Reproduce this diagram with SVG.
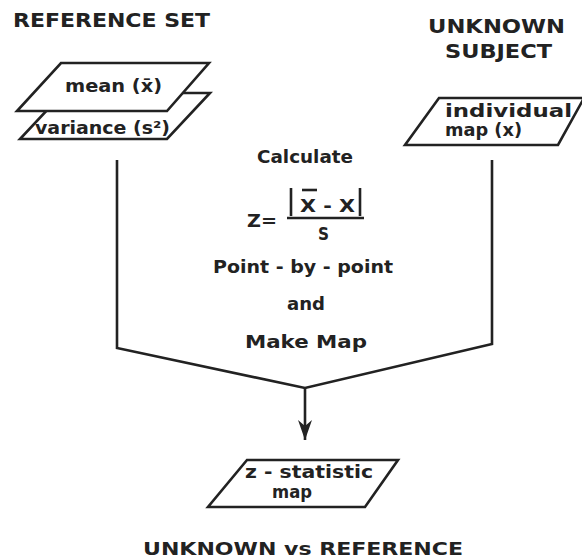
<svg xmlns="http://www.w3.org/2000/svg" width="582" height="560" viewBox="0 0 582 560">
<defs>
<style>
.t{font-family:"DejaVu Sans","Liberation Sans",sans-serif;font-weight:bold;fill:#222;}
.shape{fill:#fff;stroke:#222;stroke-width:2.6;stroke-linejoin:miter;}
.line{fill:none;stroke:#222;stroke-width:2.6;}
</style>
<marker id="arr" viewBox="0 0 20 14" refX="20" refY="7" markerWidth="20" markerHeight="14" markerUnits="userSpaceOnUse" orient="auto">
<path d="M0,0 L20,7 L0,14 L6,7 Z" fill="#222"/>
</marker>
</defs>
<rect width="582" height="560" fill="#fff"/>
<g id="title-reference"><text class="t" x="13" y="27" font-size="20" textLength="197" lengthAdjust="spacingAndGlyphs">REFERENCE SET</text></g>
<g id="title-unknown">
<text class="t" x="428" y="33" font-size="20" textLength="137" lengthAdjust="spacingAndGlyphs">UNKNOWN</text>
<text class="t" x="445" y="58" font-size="20" textLength="107" lengthAdjust="spacingAndGlyphs">SUBJECT</text>
</g>
<g id="variance">
<polygon class="shape" points="63,93 210,93 167,139 20,139"/>
<text class="t" x="35" y="134" font-size="17" textLength="135" lengthAdjust="spacingAndGlyphs">variance (s²)</text>
</g>
<g id="mean">
<polygon class="shape" points="61,63 209,63 167,111 17,111"/>
<text class="t" x="65" y="92" font-size="18" textLength="97" lengthAdjust="spacingAndGlyphs">mean (x̄)</text>
</g>
<g id="individual">
<polygon class="shape" points="439,98 584,98 558,145 405,145"/>
<text class="t" x="445" y="117" font-size="18" textLength="127" lengthAdjust="spacingAndGlyphs">individual</text>
<text class="t" x="445" y="136" font-size="18" textLength="77" lengthAdjust="spacingAndGlyphs">map (x)</text>
</g>
<g id="calculate">
<text class="t" x="257" y="163" font-size="18" textLength="96" lengthAdjust="spacingAndGlyphs">Calculate</text>
<text class="t" x="247" y="227" font-size="17" textLength="30" lengthAdjust="spacingAndGlyphs">Z=</text>
<line class="line" x1="291" y1="188" x2="291" y2="216"/>
<line class="line" x1="360" y1="188" x2="360" y2="216"/>
<line class="line" x1="302" y1="190" x2="317" y2="190" stroke-width="2"/>
<text class="t" x="300" y="212" font-size="18" textLength="55" lengthAdjust="spacingAndGlyphs">X - X</text>
<line class="line" x1="287" y1="218" x2="364" y2="218"/>
<text class="t" x="318" y="240" font-size="18" textLength="11" lengthAdjust="spacingAndGlyphs">S</text>
<text class="t" x="213" y="273" font-size="18" textLength="180" lengthAdjust="spacingAndGlyphs">Point - by - point</text>
<text class="t" x="287" y="310" font-size="18" textLength="38" lengthAdjust="spacingAndGlyphs">and</text>
<text class="t" x="245" y="348" font-size="18" textLength="122" lengthAdjust="spacingAndGlyphs">Make Map</text>
</g>
<g id="connectors">
<polyline class="line" points="117,160 117,348 305,388 492,344 492,160"/>
<line class="line" x1="305" y1="388" x2="305" y2="440" marker-end="url(#arr)"/>
</g>
<g id="zstat">
<polygon class="shape" points="247,460 398,460 365,507 208,507"/>
<text class="t" x="245" y="478" font-size="18" textLength="128" lengthAdjust="spacingAndGlyphs">z - statistic</text>
<text class="t" x="272" y="498" font-size="18" textLength="40" lengthAdjust="spacingAndGlyphs">map</text>
</g>
<g id="title-bottom"><text class="t" x="143" y="555" font-size="18" textLength="320" lengthAdjust="spacingAndGlyphs">UNKNOWN vs REFERENCE</text></g>
</svg>
